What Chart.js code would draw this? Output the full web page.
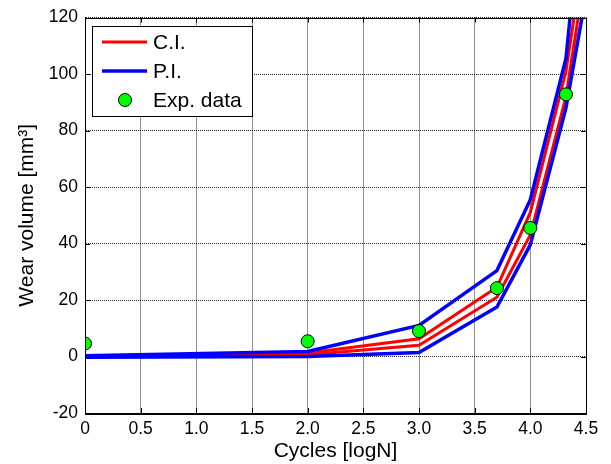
<!DOCTYPE html>
<html>
<head>
<meta charset="utf-8">
<script src="https://cdn.jsdelivr.net/npm/chart.js@4.4.1/dist/chart.umd.min.js"></script>
<style>
    html, body { margin: 0; padding: 0; background: #fff; }
    #wrap { width: 611px; height: 464px; position: relative; }
</style>
</head>
<body>
<div id="wrap"><canvas id="wearChart"></canvas></div>
<script>
// Values
const cycles  = [0, 2, 3, 3.7, 4, 4.32, 4.5];
const ciUpper = [0.1, 1.2, 6.3, 24.5, 51, 101, 148];
const ciLower = [-0.1, 0.6, 4.0, 21, 43, 92, 138];
const piUpper = [0.3, 1.8, 11, 30.4, 55.5, 105.5, 176];
const piLower = [-0.3, 0.0, 1.4, 17.5, 39.5, 88, 128];

const expCycles = [0, 2, 3, 3.7, 4, 4.32];
const expWear   = [4.6, 5.4, 9.0, 24.2, 45.5, 92.8];

const legendItems = [
    { label: 'C.I.', type: 'line', color: '#ff0000', width: 3 },
    { label: 'P.I.', type: 'line', color: '#0000ff', width: 3.5 },
    { label: 'Exp. data', type: 'dot', color: '#00ff00' }
];

Chart.defaults.font.family = "'Liberation Sans', Arial, sans-serif";
Chart.defaults.color = '#000';

const toPoints = (xs, ys) => xs.map((x, i) => ({ x: x, y: ys[i] }));

function lineSet(label, ys, color, width, order) {
    return {
        label: label,
        data: toPoints(cycles, ys),
        borderColor: color,
        backgroundColor: color,
        borderWidth: width,
        pointRadius: 0,
        tension: 0,
        order: order
    };
}

// box, inward ticks (matlab style) and the boxed legend
const matlabFrame = {
    id: 'matlabFrame',
    afterDraw(chart) {
        const ctx = chart.ctx;
        const a = chart.chartArea;
        const xs = chart.scales.x, ys = chart.scales.y;
        const tl = 5;
        ctx.save();
        ctx.strokeStyle = '#000';
        ctx.lineWidth = 1;
        ctx.setLineDash([]);
        ctx.strokeRect(Math.round(a.left) + 0.5, Math.round(a.top) + 0.5,
            Math.round(a.right - a.left), Math.round(a.bottom - a.top));
        ctx.beginPath();
        xs.ticks.forEach(t => {
            const px = Math.round(xs.getPixelForValue(t.value)) + 0.5;
            ctx.moveTo(px, a.bottom); ctx.lineTo(px, a.bottom - tl);
            ctx.moveTo(px, a.top); ctx.lineTo(px, a.top + tl);
        });
        ys.ticks.forEach(t => {
            const py = Math.round(ys.getPixelForValue(t.value)) + 0.5;
            ctx.moveTo(a.left, py); ctx.lineTo(a.left + tl, py);
            ctx.moveTo(a.right, py); ctx.lineTo(a.right - tl, py);
        });
        ctx.stroke();

        // legend
        const lx = Math.round(a.left) + 7, ly = Math.round(a.top) + 8;
        const lw = 160, lh = 90, row = 29;
        ctx.fillStyle = '#fff';
        ctx.fillRect(lx, ly, lw, lh);
        ctx.strokeRect(lx + 0.5, ly + 0.5, lw, lh);
        ctx.font = "21px 'Liberation Sans', Arial, sans-serif";
        ctx.textBaseline = 'middle';
        ctx.textAlign = 'left';
        legendItems.forEach((it, i) => {
            const cy = ly + 16 + i * row;
            if (it.type === 'line') {
                ctx.strokeStyle = it.color;
                ctx.lineWidth = it.width;
                ctx.beginPath();
                ctx.moveTo(lx + 10, cy); ctx.lineTo(lx + 55, cy);
                ctx.stroke();
            } else {
                ctx.fillStyle = it.color;
                ctx.strokeStyle = '#000';
                ctx.lineWidth = 1;
                ctx.beginPath();
                ctx.arc(lx + 33, cy, 6.5, 0, Math.PI * 2);
                ctx.fill();
                ctx.stroke();
            }
            ctx.fillStyle = '#000';
            ctx.fillText(it.label, lx + 61, cy + 1.5);
        });
        ctx.restore();
    }
};

new Chart(document.getElementById('wearChart'), {
    type: 'line',
    data: {
        datasets: [
            {
                label: 'Exp. data',
                data: toPoints(expCycles, expWear),
                showLine: false,
                pointRadius: 6.5,
                pointBackgroundColor: '#00ff00',
                pointBorderColor: '#000',
                pointBorderWidth: 1,
                order: 0
            },
            lineSet('P.I. upper', piUpper, '#0000ff', 3.5, 1),
            lineSet('P.I. lower', piLower, '#0000ff', 3.5, 1),
            lineSet('C.I. upper', ciUpper, '#ff0000', 3, 2),
            lineSet('C.I. lower', ciLower, '#ff0000', 3, 2)
        ]
    },
    options: {
        responsive: true,
        maintainAspectRatio: false,
        animation: false,
        layout: { padding: { top: 16, right: 25, left: 0, bottom: 0 } },
        plugins: {
            legend: { display: false },
            tooltip: { enabled: false }
        },
        scales: {
            x: {
                type: 'linear',
                min: 0,
                max: 4.5,
                ticks: { stepSize: 0.5, padding: 6, font: { size: 17.5 } },
                grid: { color: '#222', drawTicks: false },
                border: { display: true, color: '#000', dash: [1, 1] },
                title: { display: true, text: 'Cycles [logN]', font: { size: 21 }, padding: { top: 0, bottom: 0 } },
                afterFit: s => { s.height = 51; }
            },
            y: {
                min: -20,
                max: 120,
                ticks: { stepSize: 20, padding: 7, font: { size: 17.5 } },
                grid: { color: '#222', drawTicks: false },
                border: { display: true, color: '#000', dash: [1, 1] },
                title: { display: true, text: 'Wear volume [mm³]', font: { size: 21 }, padding: { top: 15, bottom: 0 } },
                afterFit: s => { s.width = 85; }
            }
        }
    },
    plugins: [matlabFrame]
});
</script>
</body>
</html>
